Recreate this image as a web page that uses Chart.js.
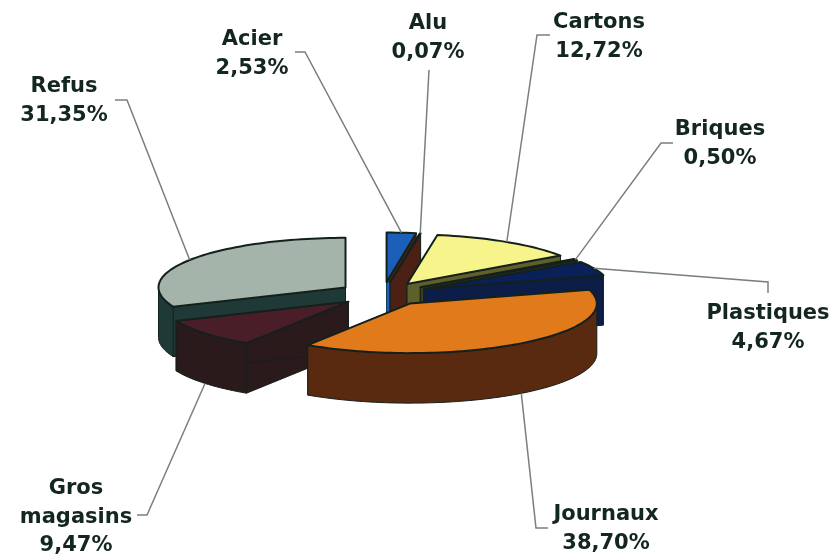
<!DOCTYPE html>
<html>
<head>
<meta charset="utf-8">
<title>Composition</title>
<script src="https://cdn.jsdelivr.net/npm/chart.js@4"></script>
<style>
    html, body { margin: 0; background: #fff; }
    canvas { display: block; }
</style>
</head>
<body>
<canvas id="pieChart" width="835" height="555"></canvas>
<script>
// clockwise from the top of the pie
const categories = ['Acier', 'Alu', 'Cartons', 'Briques', 'Plastiques', 'Journaux', 'Gros magasins', 'Refus'];
const shares = [2.53, 0.07, 12.72, 0.50, 4.67, 38.70, 9.47, 31.35];
const topColors = ['#1c5fb8', '#6b2a14', '#f8f48c', '#4a4a22', '#0a2058', '#e07a1a', '#4a1e28', '#a4b4aa'];
const sideColors = ['#4d2014', '#4d2014', '#5f5f2c', '#3c3c1e', '#0c1d48', '#592a10', '#2a1a1c', '#1f3a36'];

// back slices first so the front ones cover them
const drawOrder = [7, 0, 1, 2, 3, 4, 6, 5];

const squash = 0.265;  // flattening of the pie
const depth = 50;      // height of the side walls
const explode = 45;    // how far slices are pulled out

// label text centre, first line y, and the leader line start / elbow
const labelSpots = [
    { x: 252, y: 40, start: [295, 52], elbow: [305, 52] },
    { x: 428, y: 24, start: [429, 70], elbow: null },
    { x: 599, y: 23, start: [550, 35], elbow: [537, 35] },
    { x: 720, y: 130, start: [673, 143], elbow: [661, 143] },
    { x: 768, y: 314, start: [768, 293], elbow: [768, 282] },
    { x: 606, y: 515, start: [548, 528], elbow: [536, 528] },
    { x: 76, y: 489, start: [137, 515], elbow: [147, 515] },
    { x: 64, y: 87, start: [115, 100], elbow: [127, 100] }
];

function midAngle(arc) {
    return (arc.startAngle + arc.endAngle) / 2;
}

// screen position of a point on an exploded slice
function slicePoint(arc, angle, r, drop) {
    const mid = midAngle(arc);
    return [
        arc.x + Math.cos(mid) * explode + Math.cos(angle) * r,
        arc.y + (Math.sin(mid) * explode + Math.sin(angle) * r) * squash + drop
    ];
}

function rimPoints(arc, from, to, drop) {
    const pts = [];
    const steps = Math.max(2, Math.ceil((to - from) / 0.03));
    for (let i = 0; i <= steps; i++) {
        pts.push(slicePoint(arc, from + (to - from) * i / steps, arc.outerRadius, drop));
    }
    return pts;
}

function fillPoly(ctx, pts, color) {
    ctx.beginPath();
    pts.forEach((p, i) => i ? ctx.lineTo(p[0], p[1]) : ctx.moveTo(p[0], p[1]));
    ctx.closePath();
    if (color) {
        ctx.fillStyle = color;
        ctx.fill();
    }
    ctx.stroke();
}

const pie3d = {
    id: 'pie3d',
    beforeDatasetDraw(chart) {
        const ctx = chart.ctx;
        const arcs = chart.getDatasetMeta(0).data;
        ctx.save();
        ctx.lineJoin = 'round';
        drawOrder.forEach(i => {
            const arc = arcs[i];
            const apex = slicePoint(arc, 0, 0, 0);
            const apexLow = slicePoint(arc, 0, 0, depth);
            ctx.strokeStyle = '#14201c';
            ctx.lineWidth = 1;
            // cut faces
            [arc.startAngle, arc.endAngle].forEach(a => {
                fillPoly(ctx, [apex, slicePoint(arc, a, arc.outerRadius, 0), slicePoint(arc, a, arc.outerRadius, depth), apexLow], sideColors[i]);
            });
            // outer wall, only the part facing the viewer
            const from = Math.max(arc.startAngle, 0);
            const to = Math.min(arc.endAngle, Math.PI);
            if (to > from) {
                fillPoly(ctx, rimPoints(arc, from, to, 0).concat(rimPoints(arc, from, to, depth).reverse()), sideColors[i]);
            }
            // the steel slice shows a blue strip down its left side
            if (i === 0) {
                ctx.strokeStyle = topColors[0];
                ctx.lineWidth = 3;
                ctx.beginPath();
                ctx.moveTo(apex[0] + 1.5, apex[1]);
                ctx.lineTo(apexLow[0] + 1.5, apexLow[1]);
                ctx.stroke();
                ctx.strokeStyle = '#14201c';
            }

            // top face is the library's own arc, flattened and moved out
            const mid = midAngle(arc);
            ctx.save();
            ctx.translate(Math.cos(mid) * explode, arc.y + Math.sin(mid) * explode * squash);
            ctx.scale(1, squash);
            ctx.translate(0, -arc.y);
            arc.draw(ctx);
            ctx.restore();

            ctx.lineWidth = 2;
            fillPoly(ctx, [apex].concat(rimPoints(arc, arc.startAngle, arc.endAngle, 0)), null);
        });
        ctx.restore();
        return false;
    },
    afterDraw(chart) {
        const ctx = chart.ctx;
        const arcs = chart.getDatasetMeta(0).data;
        ctx.save();
        categories.forEach((name, i) => {
            const spot = labelSpots[i];
            const arc = arcs[i];
            const mid = midAngle(arc);
            // leader stops at the middle of the slice rim, at the wall foot for front slices
            const end = slicePoint(arc, mid, arc.outerRadius, Math.sin(mid) > 0.3 ? depth : 0);
            ctx.strokeStyle = '#77807c';
            ctx.lineWidth = 1.5;
            ctx.beginPath();
            ctx.moveTo(spot.start[0], spot.start[1]);
            if (spot.elbow) ctx.lineTo(spot.elbow[0], spot.elbow[1]);
            ctx.lineTo(end[0], end[1]);
            ctx.stroke();

            const lines = name.split(' ').concat(shares[i].toFixed(2).replace('.', ',') + '%');
            ctx.fillStyle = '#13261f';
            ctx.font = 'bold 21px "DejaVu Sans"';
            ctx.textAlign = 'center';
            ctx.textBaseline = 'middle';
            lines.forEach((line, k) => ctx.fillText(line, spot.x, spot.y + k * 28.5));
        });
        ctx.restore();
    }
};

new Chart(document.getElementById('pieChart').getContext('2d'), {
    type: 'pie',
    data: {
        labels: categories,
        datasets: [{
            data: shares,
            backgroundColor: topColors,
            borderWidth: 0
        }]
    },
    options: {
        responsive: false,
        animation: false,
        radius: 187,
        layout: { padding: { right: 69, top: 33 } },
        plugins: {
            legend: { display: false },
            tooltip: { enabled: false }
        }
    },
    plugins: [pie3d]
});
</script>
</body>
</html>
